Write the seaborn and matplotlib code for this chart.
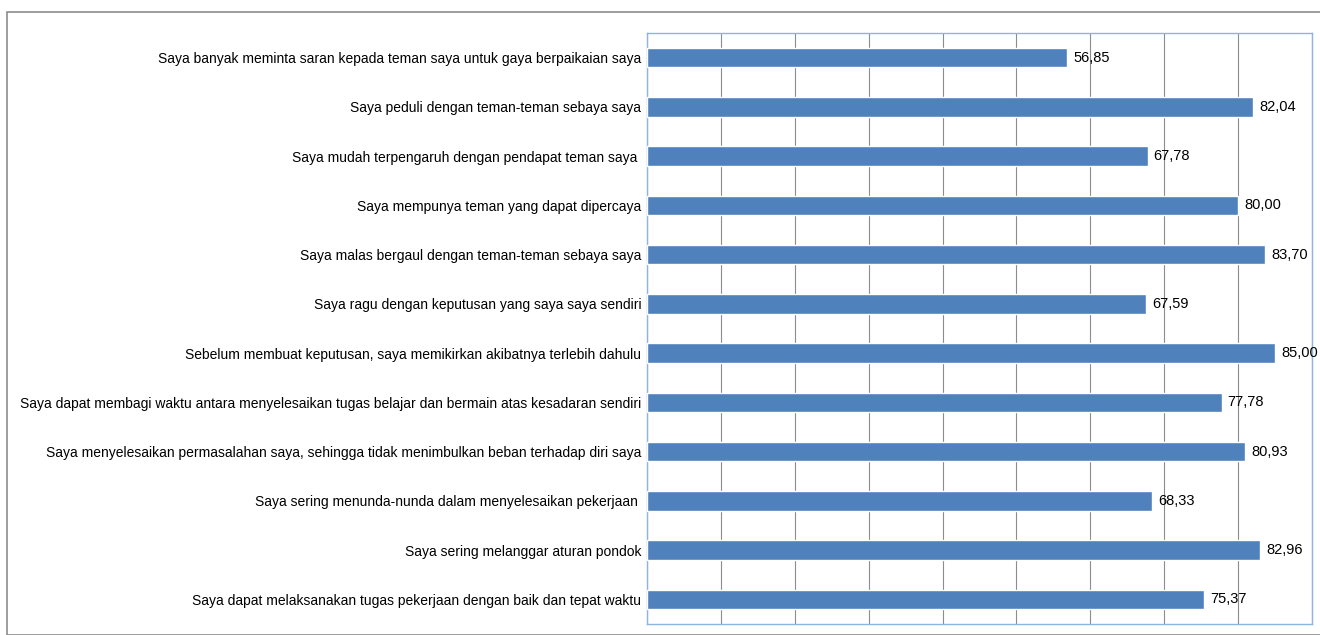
import matplotlib
matplotlib.use("Agg")
import matplotlib.pyplot as plt
import seaborn as sns
import pandas as pd
from matplotlib.patches import Rectangle

statements = [
    "Saya banyak meminta saran kepada teman saya untuk gaya berpaikaian saya",
    "Saya peduli dengan teman-teman sebaya saya",
    "Saya mudah terpengaruh dengan pendapat teman saya ",
    "Saya mempunya teman yang dapat dipercaya",
    "Saya malas bergaul dengan teman-teman sebaya saya",
    "Saya ragu dengan keputusan yang saya saya sendiri",
    "Sebelum membuat keputusan, saya memikirkan akibatnya terlebih dahulu",
    "Saya dapat membagi waktu antara menyelesaikan tugas belajar dan bermain atas kesadaran sendiri",
    "Saya menyelesaikan permasalahan saya, sehingga tidak menimbulkan beban terhadap diri saya",
    "Saya sering menunda-nunda dalam menyelesaikan pekerjaan ",
    "Saya sering melanggar aturan pondok",
    "Saya dapat melaksanakan tugas pekerjaan dengan baik dan tepat waktu",
]
values = [56.85, 82.04, 67.78, 80.00, 83.70, 67.59, 85.00, 77.78, 80.93, 68.33, 82.96, 75.37]

df = pd.DataFrame({"statement": statements, "value": values})

sns.set_theme(style="white")
plt.rcParams['font.family'] = ['Liberation Sans Narrow', 'Liberation Sans', 'DejaVu Sans']

fig = plt.figure(figsize=(13.2, 6.35), dpi=100)
ax = fig.add_axes([647/1320, 1 - 624/635, (1312-647)/1320, (624-33)/635])

sns.barplot(data=df, y="statement", x="value", orient="h", color="#4F81BD",
            width=0.4, saturation=1, ax=ax, zorder=3)

ax.set_xlim(0, 90)
ax.set_xticks(range(0, 91, 10))
ax.xaxis.grid(True, color="#8C8C8C", linewidth=0.8, zorder=0)
ax.yaxis.grid(False)
ax.set_xticklabels([])
ax.tick_params(axis="x", length=0)
ax.tick_params(axis="y", length=0, pad=4, labelsize=10, labelcolor="#000000")
ax.set_xlabel("")
ax.set_ylabel("")
for s in ax.spines.values():
    s.set_color("#8EB4E3")
    s.set_linewidth(1)

for i, v in enumerate(values):
    ax.text(v + 0.8, i, f"{v:.2f}".replace(".", ","), va="center", ha="left",
            fontsize=10.5, color="#000000", zorder=4)

fig.patches.append(Rectangle((7/1320, 0), 1 - 7/1320 + 0.01, 1 - 12/635,
                             transform=fig.transFigure, fill=False,
                             edgecolor="#8C8C8C", linewidth=1.2))

fig.savefig("out.png", dpi=100, facecolor="white")
